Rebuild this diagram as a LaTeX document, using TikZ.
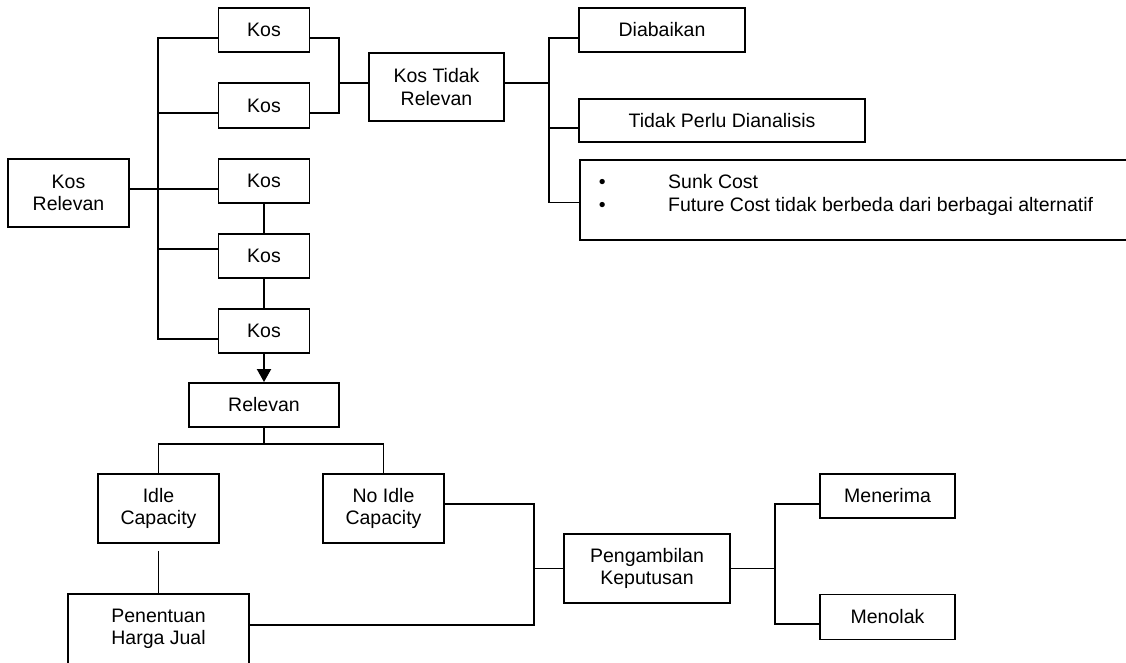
\documentclass[tikz,border=0pt]{standalone}
\usepackage{fontspec}
\setmainfont{Liberation Sans}
\usetikzlibrary{arrows.meta,calc}
\begin{document}
\begin{tikzpicture}[x=1pt,y=-1pt,
  box/.style={draw,line width=1.9pt,inner sep=0pt,align=center,
    font=\fontsize{19.5}{22.5}\selectfont},
  conn/.style={line width=1.9pt},
  txt/.style={inner sep=0pt,align=left,font=\fontsize{19.5}{23}\selectfont}]
\useasboundingbox (0,0) rectangle (1126,662);
\fill[white] (0,0) rectangle (1126,662);
% top-left column
\node[box,minimum width=121,minimum height=68] (kosrel) at (68.5,193) {Kos\\Relevan};
\node[box,minimum width=91,minimum height=44] (kos1) at (264,30) {Kos};
\node[box,minimum width=91,minimum height=45] (kos2) at (264,105.5) {Kos};
\node[box,minimum width=91,minimum height=44] (kos3) at (264,181) {Kos};
\node[box,minimum width=91,minimum height=44] (kos4) at (264,256) {Kos};
\node[box,minimum width=91,minimum height=44] (kos5) at (264,331) {Kos};
\node[box,minimum width=135,minimum height=68] (ktr) at (436.5,87) {Kos Tidak\\Relevan};
\node[box,minimum width=166,minimum height=44] (diab) at (662,30) {Diabaikan};
\node[box,minimum width=286,minimum height=43] (tpd) at (722,120.5) {Tidak Perlu Dianalisis};
\node[box,minimum width=561,minimum height=80,anchor=north west] (bul) at (579,159) {};
\node[txt,anchor=west] (bultxt) at (598.6,194.5)
  {\makebox[69.4pt][l]{\textbullet}Sunk Cost\\\makebox[69.4pt][l]{\textbullet}Future Cost tidak berbeda dari berbagai alternatif};
% lower part
\node[box,minimum width=150,minimum height=44] (rel) at (264,405) {Relevan};
\node[box,minimum width=121,minimum height=69] (idle) at (158.5,508.5) {Idle\\Capacity};
\node[box,minimum width=121,minimum height=69] (noidle) at (383.5,508.5) {No Idle\\Capacity};
\node[box,minimum width=181,minimum height=70] (pen) at (158.5,629) {Penentuan\\Harga Jual};
\node[box,minimum width=166,minimum height=69] (peng) at (647,568.5) {Pengambilan\\Keputusan};
\node[box,minimum width=135,minimum height=44] (men) at (887.5,496) {Menerima};
\node[box,minimum width=135,minimum height=45] (mno) at (887.5,617) {Menolak};
% bus coordinates
\coordinate (L) at (158,0);
\coordinate (R) at (339,0);
\coordinate (M) at (549,0);
\coordinate (B) at (534,0);
\coordinate (C) at (775,0);
% left bus
\draw[conn] ([yshift=-8pt]kos1.west) -- ([yshift=-8pt]kos1.west -| L)
  -- ([yshift=-8pt]kos5.west -| L) -- ([yshift=-8pt]kos5.west);
\draw[conn] ([yshift=-7.5pt]kos2.west) -- ([yshift=-7.5pt]kos2.west -| L);
\draw[conn] ([yshift=4pt]kosrel.east) -- ([yshift=-8pt]kos3.west);
\draw[conn] ([yshift=7pt]kos4.west) -- ([yshift=7pt]kos4.west -| L);
% vertical chain
\draw[conn] (kos3.south) -- (kos4.north);
\draw[conn] (kos4.south) -- (kos5.north);
\draw[conn,-{Triangle[width=14pt,length=13pt]}] (kos5.south) -- (rel.north);
% right of Kos1/Kos2
\draw[conn] ([yshift=-8pt]kos1.east) -- ([yshift=-8pt]kos1.east -| R)
  -- ([yshift=-7.5pt]kos2.east -| R) -- ([yshift=-7.5pt]kos2.east);
\draw[conn] ([yshift=4pt]ktr.west -| R) -- ([yshift=4pt]ktr.west);
% Kos Tidak Relevan branches
\draw[conn] ([yshift=4pt]ktr.east) -- ([yshift=4pt]ktr.east -| M);
\draw[conn] ([yshift=-8pt]diab.west) -- ([yshift=-8pt]diab.west -| M)
  -- ([yshift=-43.5pt]bul.north west -| M) -- ([yshift=-43.5pt]bul.north west);
\draw[conn] ([yshift=-7.5pt]tpd.west) -- ([yshift=-7.5pt]tpd.west -| M);
% Relevan branches
\draw[conn] (rel.south) -- ([yshift=-17pt]rel.south);
\draw[conn] (idle.north) -- (idle.north |- 0,444) -- (noidle.north |- 0,444) -- (noidle.north);
\draw[conn] ([yshift=-7pt]idle.south) -- (pen.north);
% to Pengambilan Keputusan
\draw[conn] ([yshift=4.5pt]noidle.east) -- ([yshift=4.5pt]noidle.east -| B)
  -- ([yshift=4pt]pen.east -| B) -- ([yshift=4pt]pen.east);
\draw[conn] (peng.west -| B) -- (peng.west);
% to Menerima / Menolak
\draw[conn] (peng.east) -- (peng.east -| C);
\draw[conn] ([yshift=-8pt]men.west) -- ([yshift=-8pt]men.west -| C)
  -- ([yshift=-7pt]mno.west -| C) -- ([yshift=-7pt]mno.west);
\end{tikzpicture}
\end{document}
